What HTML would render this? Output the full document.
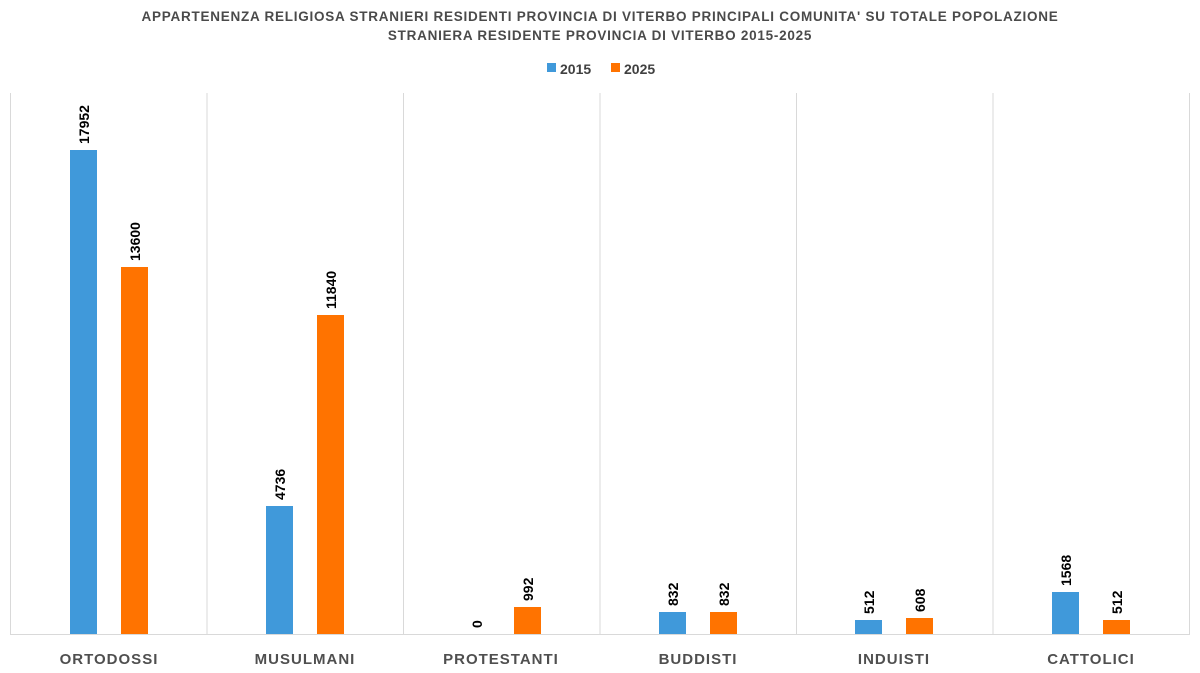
<!DOCTYPE html>
<html><head><meta charset="utf-8"><style>
body{margin:0;background:#fff;}
svg{display:block;font-family:"Liberation Sans",sans-serif;}
</style></head><body>
<svg width="1200" height="673" viewBox="0 0 1200 673">
<text x="600" y="21" text-anchor="middle" font-size="13.5" font-weight="bold" fill="#4a4a4a" letter-spacing="0.75">APPARTENENZA RELIGIOSA STRANIERI RESIDENTI PROVINCIA DI VITERBO PRINCIPALI COMUNITA' SU TOTALE POPOLAZIONE</text>
<text x="600" y="40" text-anchor="middle" font-size="13.5" font-weight="bold" fill="#4a4a4a" letter-spacing="0.75">STRANIERA RESIDENTE PROVINCIA DI VITERBO 2015-2025</text>
<rect x="547" y="63" width="9" height="9" fill="#4099da"/>
<text x="560" y="74" font-size="14" font-weight="bold" fill="#404040">2015</text>
<rect x="611" y="63" width="9" height="9" fill="#ff7300"/>
<text x="624" y="74" font-size="14" font-weight="bold" fill="#404040">2025</text>
<g stroke="#d9d9d9" stroke-width="1">
<line x1="10.5" y1="93" x2="10.5" y2="634"/>
<line x1="207" y1="93" x2="207" y2="634"/>
<line x1="403.5" y1="93" x2="403.5" y2="634"/>
<line x1="600" y1="93" x2="600" y2="634"/>
<line x1="796.5" y1="93" x2="796.5" y2="634"/>
<line x1="993" y1="93" x2="993" y2="634"/>
<line x1="1189.5" y1="93" x2="1189.5" y2="634"/>
<line x1="10" y1="634.5" x2="1190" y2="634.5"/>
</g>
<g font-size="15" font-weight="bold" fill="#4f4f4f" text-anchor="middle" letter-spacing="1">
<text x="109" y="664">ORTODOSSI</text>
<text x="305" y="664">MUSULMANI</text>
<text x="501" y="664">PROTESTANTI</text>
<text x="698" y="664">BUDDISTI</text>
<text x="894" y="664">INDUISTI</text>
<text x="1091" y="664">CATTOLICI</text>
</g>
<g font-size="14" font-weight="bold" fill="#000">
<rect x="70" y="150" width="27" height="484" fill="#4099da"/>
<text transform="translate(89,144) rotate(-90)">17952</text>
<rect x="121" y="267" width="27" height="367" fill="#ff7300"/>
<text transform="translate(140,261) rotate(-90)">13600</text>
<rect x="266" y="506" width="27" height="128" fill="#4099da"/>
<text transform="translate(285,500) rotate(-90)">4736</text>
<rect x="317" y="315" width="27" height="319" fill="#ff7300"/>
<text transform="translate(336,309) rotate(-90)">11840</text>
<text transform="translate(482,628) rotate(-90)">0</text>
<rect x="514" y="607" width="27" height="27" fill="#ff7300"/>
<text transform="translate(533,601) rotate(-90)">992</text>
<rect x="659" y="612" width="27" height="22" fill="#4099da"/>
<text transform="translate(678,606) rotate(-90)">832</text>
<rect x="710" y="612" width="27" height="22" fill="#ff7300"/>
<text transform="translate(729,606) rotate(-90)">832</text>
<rect x="855" y="620" width="27" height="14" fill="#4099da"/>
<text transform="translate(874,614) rotate(-90)">512</text>
<rect x="906" y="618" width="27" height="16" fill="#ff7300"/>
<text transform="translate(925,612) rotate(-90)">608</text>
<rect x="1052" y="592" width="27" height="42" fill="#4099da"/>
<text transform="translate(1071,586) rotate(-90)">1568</text>
<rect x="1103" y="620" width="27" height="14" fill="#ff7300"/>
<text transform="translate(1122,614) rotate(-90)">512</text>
</g>
</svg>
</body></html>
